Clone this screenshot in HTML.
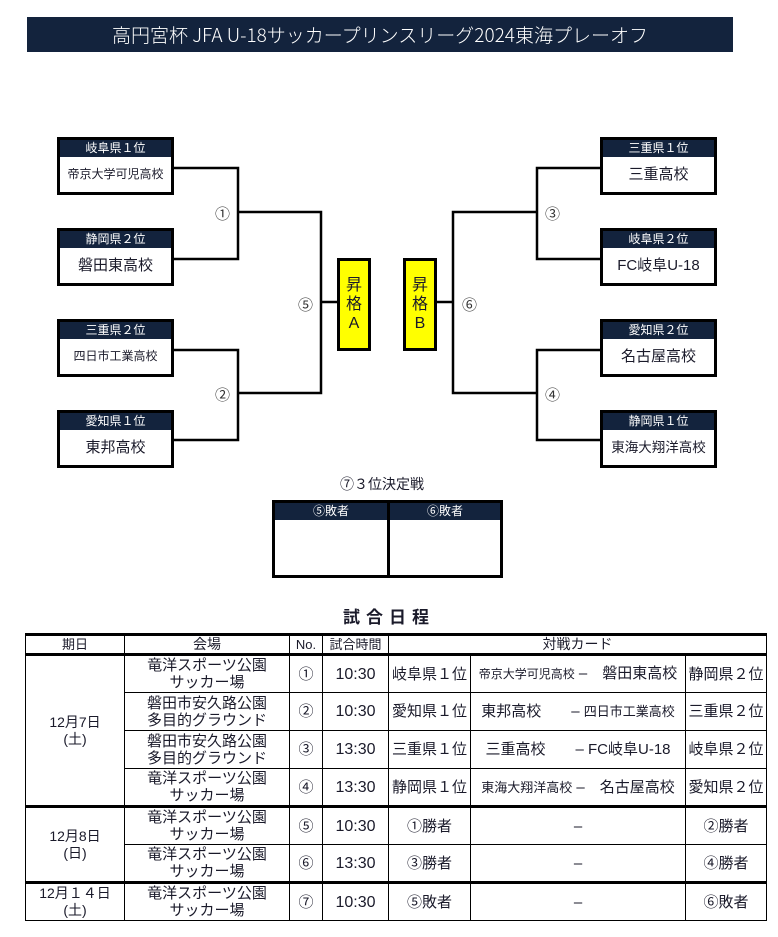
<!DOCTYPE html>
<html><head><meta charset="utf-8"><style>
*{margin:0;padding:0;box-sizing:border-box}
body{width:778px;height:937px;background:#fff;position:relative;overflow:hidden;font-family:"Liberation Sans","Noto Sans CJK JP",sans-serif;color:#1a1a2a}
.a{position:absolute}
.title{left:27px;top:17px;width:706px;height:35px;background:#13233d;color:#fff;font-size:19px;text-align:center;line-height:35px;font-family:"Noto Sans CJK JP","Liberation Sans",sans-serif;font-weight:300}
.box{position:absolute;border:3px solid #000;background:#fff;width:117px;height:58px}
.box .h{background:#13233d;color:#fff;font-size:12px;height:17px;line-height:17px;text-align:center}
.box .n{text-align:center;font-size:15px;line-height:35px;white-space:nowrap}
.box .n.s{font-size:12px}
.y{position:absolute;background:#ffff00;border:3px solid #000;width:34px;height:93px;top:258px;text-align:center;font-size:16px;line-height:19px;padding-top:15px}
.c{position:absolute;font-size:15px;color:#333}
table{position:absolute;left:25px;top:633px;border-collapse:collapse;width:741px;table-layout:fixed}
td{border:1.5px solid #000;text-align:center;font-size:15px;line-height:17px;height:38px;white-space:nowrap;overflow:hidden}
tr.hd td{height:19px;font-size:13px}
.sm{font-size:12px}
tr.tk td{border-top:3px solid #000}
</style></head><body>
<div class="a title">高円宮杯 JFA U-18サッカープリンスリーグ2024東海プレーオフ</div>

<svg class="a" style="left:0;top:0" width="778" height="600">
<g stroke="#000" stroke-width="2.5" fill="none">
<path d="M173 168H238V259H173"/><path d="M173 350H238V440H173"/>
<path d="M238 212H321V393H238"/><path d="M321 302H338"/>
<path d="M600 168H537V259H600"/><path d="M600 350H537V440H600"/>
<path d="M537 212H453V393H537"/><path d="M437 302H453"/>
</g></svg>

<div class="box" style="left:57px;top:137px"><div class="h">岐阜県１位</div><div class="n s">帝京大学可児高校</div></div>
<div class="box" style="left:57px;top:228px"><div class="h">静岡県２位</div><div class="n">磐田東高校</div></div>
<div class="box" style="left:57px;top:319px"><div class="h">三重県２位</div><div class="n s">四日市工業高校</div></div>
<div class="box" style="left:57px;top:410px"><div class="h">愛知県１位</div><div class="n">東邦高校</div></div>
<div class="box" style="left:600px;top:137px"><div class="h">三重県１位</div><div class="n">三重高校</div></div>
<div class="box" style="left:600px;top:228px"><div class="h">岐阜県２位</div><div class="n">FC岐阜U-18</div></div>
<div class="box" style="left:600px;top:319px"><div class="h">愛知県２位</div><div class="n">名古屋高校</div></div>
<div class="box" style="left:600px;top:410px"><div class="h">静岡県１位</div><div class="n s" style="font-size:13.5px">東海大翔洋高校</div></div>

<div class="c" style="left:215px;top:203px">①</div>
<div class="c" style="left:215px;top:384px">②</div>
<div class="c" style="left:298px;top:294px">⑤</div>
<div class="c" style="left:545px;top:203px">③</div>
<div class="c" style="left:545px;top:384px">④</div>
<div class="c" style="left:462px;top:294px">⑥</div>

<div class="y" style="left:337px">昇<br>格<br>A</div>
<div class="y" style="left:403px">昇<br>格<br>B</div>

<div class="a" style="left:340px;top:474px;font-size:14px">⑦３位決定戦</div>
<div class="a" style="left:272px;top:500px;width:231px;height:78px;border:3px solid #000">
<div class="a" style="left:0;top:0;width:225px;height:17px;background:#13233d"></div>
<div class="a" style="left:112px;top:0;width:3px;height:72px;background:#000"></div>
<div class="a" style="left:0;top:0;width:112px;line-height:17px;text-align:center;color:#fff;font-size:12px">⑤敗者</div>
<div class="a" style="left:115px;top:0;width:110px;line-height:17px;text-align:center;color:#fff;font-size:12px">⑥敗者</div>
</div>

<div class="a" style="left:0;width:778px;top:603px;text-align:center;font-size:17px;font-weight:bold;letter-spacing:6px">試合日程</div>

<table>
<colgroup><col style="width:99px"><col style="width:165px"><col style="width:33px"><col style="width:66px"><col style="width:82px"><col style="width:215px"><col style="width:81px"></colgroup>
<tr class="hd" style="border-top:3px solid #000"><td>期日</td><td style="font-size:14px">会場</td><td>No.</td><td class="sm">試合時間</td><td colspan="3" style="font-size:14px">対戦カード</td></tr>
<tr class="tk"><td rowspan="4" style="font-size:14px">12月7日<br>(土)</td><td>竜洋スポーツ公園<br>サッカー場</td><td>①</td><td style="font-size:16px">10:30</td><td>岐阜県１位</td><td><span class="sm">帝京大学可児高校</span> –　磐田東高校</td><td>静岡県２位</td></tr>
<tr><td>磐田市安久路公園<br>多目的グラウンド</td><td>②</td><td style="font-size:16px">10:30</td><td>愛知県１位</td><td>東邦高校　　– <span style="font-size:13px">四日市工業高校</span></td><td>三重県２位</td></tr>
<tr><td>磐田市安久路公園<br>多目的グラウンド</td><td>③</td><td style="font-size:16px">13:30</td><td>三重県１位</td><td>三重高校　　– FC岐阜U-18</td><td>岐阜県２位</td></tr>
<tr><td>竜洋スポーツ公園<br>サッカー場</td><td>④</td><td style="font-size:16px">13:30</td><td>静岡県１位</td><td><span style="font-size:13px">東海大翔洋高校</span> –　名古屋高校</td><td>愛知県２位</td></tr>
<tr class="tk"><td rowspan="2" style="font-size:14px">12月8日<br>(日)</td><td>竜洋スポーツ公園<br>サッカー場</td><td>⑤</td><td style="font-size:16px">10:30</td><td>①勝者</td><td>–</td><td>②勝者</td></tr>
<tr><td>竜洋スポーツ公園<br>サッカー場</td><td>⑥</td><td style="font-size:16px">13:30</td><td>③勝者</td><td>–</td><td>④勝者</td></tr>
<tr class="tk"><td style="font-size:14px">12月１４日<br>(土)</td><td>竜洋スポーツ公園<br>サッカー場</td><td>⑦</td><td style="font-size:16px">10:30</td><td>⑤敗者</td><td>–</td><td>⑥敗者</td></tr>
</table>
</body></html>
